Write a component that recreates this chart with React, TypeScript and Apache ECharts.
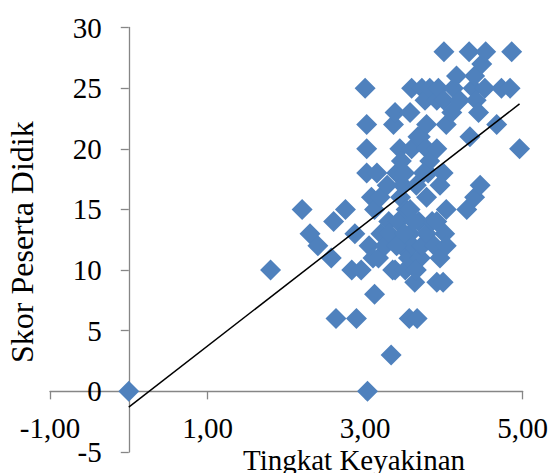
import React, { useEffect, useRef } from "react";
import * as echarts from "echarts";

const keyakinan = [
  0, 1.8, 2.2, 2.3, 2.4, 2.57, 2.6, 2.63, 2.75, 2.83, 2.87, 2.89, 2.95, 3.0, 3.02, 3.02, 3.02, 3.03,
  3.05, 3.08, 3.1, 3.12, 3.12, 3.15, 3.17, 3.19, 3.2, 3.25, 3.3, 3.31, 3.33, 3.35, 3.36, 3.38, 3.38,
  3.4, 3.42, 3.44, 3.45, 3.46, 3.46, 3.48, 3.5, 3.51, 3.52, 3.55, 3.56, 3.57, 3.57, 3.57, 3.59, 3.59,
  3.6, 3.63, 3.65, 3.66, 3.67, 3.68, 3.7, 3.7, 3.72, 3.72, 3.76, 3.78, 3.78, 3.78, 3.78, 3.8, 3.82,
  3.82, 3.85, 3.88, 3.91, 3.91, 3.91, 3.91, 3.93, 3.95, 3.95, 3.99, 3.99, 4.0, 4.0, 4.01, 4.03, 4.03,
  4.03, 4.1, 4.12, 4.16, 4.2, 4.29, 4.32, 4.33, 4.37, 4.39, 4.39, 4.41, 4.44, 4.46, 4.48, 4.52, 4.53,
  4.67, 4.73, 4.84, 4.86, 4.96, 3.4, 3.5, 3.65, 3.28, 3.62, 3.74,
];
const skor = [
  0, 10, 15, 13, 12, 11, 14, 6, 15, 10, 13, 6, 10, 25, 22, 20, 18, 0,
  12, 16, 11, 8, 15, 18, 11, 16, 13, 12, 14, 13, 3, 10, 22, 23, 10,
  18, 14, 20, 16, 19, 12, 17, 18, 10, 15, 11, 6, 23, 15, 13, 25, 20,
  12, 9, 17, 6, 21, 14, 21, 11, 25, 12, 24, 22, 20, 16, 13, 18, 25,
  19, 14, 12, 24, 20, 14, 9, 25, 17, 11, 18, 9, 28, 24, 13, 22, 15,
  12, 23, 25, 26, 24, 15, 28, 21, 25, 26, 16, 24, 23, 17, 27, 25, 28,
  22, 25, 25, 28, 20, 12, 13, 10, 17, 14, 18,
];
const trendX = [0, 4.96];
const trendY = [-1.3, 23.7];
const xTicks = { min: -1, max: 5, interval: 2 };
const yTicks = { min: -5, max: 30, interval: 5 };

const FONT = "'Liberation Serif', 'Times New Roman', serif";
const AXIS_COLOR = "#868686";

const W = 552;
const H = 473;
const GRID = { left: 50, right: 29.3, top: 27.5, bottom: 21 };

export default function App() {
  const ref = useRef<HTMLDivElement>(null);
  useEffect(() => {
    if (!ref.current) return;
    const chart = echarts.init(ref.current, undefined, { renderer: "svg" });
    const points = keyakinan.map((x, i) => [x, skor[i]]);
    const trend = trendX.map((x, i) => [x, trendY[i]]);
    const gw = W - GRID.left - GRID.right;
    const gh = H - GRID.top - GRID.bottom;
    // axes cross at zero: shift each axis inward by the distance from its edge to zero
    const yAxisOffset = -((0 - xTicks.min) / (xTicks.max - xTicks.min)) * gw;
    const xAxisOffset = -((0 - yTicks.min) / (yTicks.max - yTicks.min)) * gh;
    chart.setOption({
      animation: false,
      backgroundColor: "#ffffff",
      textStyle: { fontFamily: FONT },
      grid: { ...GRID, containLabel: false, outerBoundsMode: "none" },
      xAxis: {
        type: "value",
        position: "bottom",
        offset: xAxisOffset,
        min: xTicks.min,
        max: xTicks.max,
        interval: xTicks.interval,
        axisLine: { show: true, onZero: false, lineStyle: { color: AXIS_COLOR, width: 1.3 } },
        axisTick: { show: true, inside: false, length: 8, lineStyle: { color: AXIS_COLOR, width: 1.3 } },
        splitLine: { show: false },
        axisLabel: {
          color: "#000",
          fontSize: 29,
          fontFamily: FONT,
          margin: 22,
          formatter: (v: number) => v.toFixed(2).replace(".", ","),
        },
      },
      yAxis: {
        type: "value",
        position: "left",
        offset: yAxisOffset,
        min: yTicks.min,
        max: yTicks.max,
        interval: yTicks.interval,
        axisLine: { show: true, onZero: false, lineStyle: { color: AXIS_COLOR, width: 1.3 } },
        axisTick: { show: true, inside: false, length: 8, lineStyle: { color: AXIS_COLOR, width: 1.3 } },
        splitLine: { show: false },
        axisLabel: { color: "#000", fontSize: 29, fontFamily: FONT, margin: 27 },
      },
      graphic: [
        {
          type: "text",
          left: 243,
          top: 445,
          style: { text: "Tingkat Keyakinan", fill: "#000", font: `29px ${FONT}` },
        },
        {
          type: "text",
          x: 6,
          y: 363,
          rotation: Math.PI / 2,
          style: { text: "Skor Peserta Didik", fill: "#000", font: `32px ${FONT}` },
        },
      ],
      series: [
        {
          type: "scatter",
          data: points,
          symbol: "diamond",
          symbolSize: 21,
          itemStyle: { color: "#4F81BD", opacity: 1 },
          z: 2,
        },
        {
          type: "line",
          data: trend,
          showSymbol: false,
          symbol: "none",
          lineStyle: { color: "#000", width: 1.5 },
          z: 3,
        },
      ],
    });
    return () => chart.dispose();
  }, []);
  return (
    <div
      ref={ref}
      style={{ position: "fixed", left: 0, top: 0, width: W, height: H, background: "#fff" }}
    />
  );
}
